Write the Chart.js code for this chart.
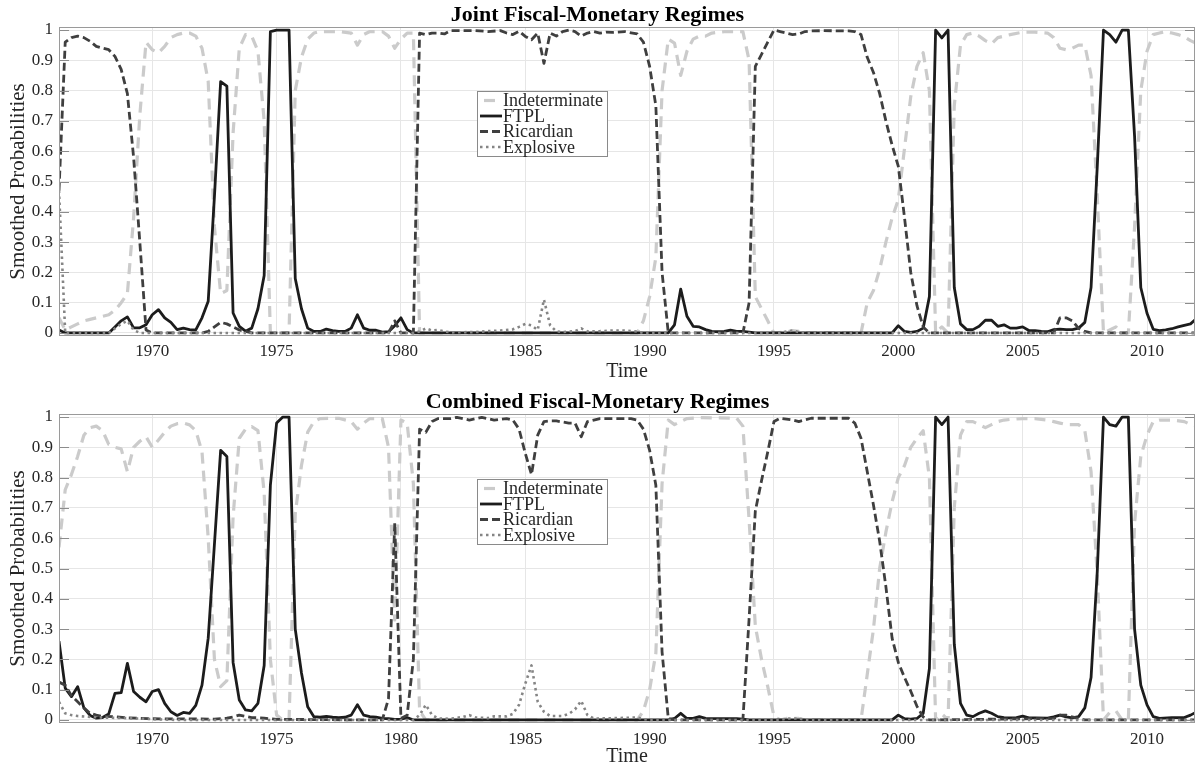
<!DOCTYPE html>
<html>
<head>
<meta charset="utf-8">
<script src="https://cdn.jsdelivr.net/npm/chart.js@4.4.1/dist/chart.umd.min.js"></script>
<style>
  html, body { margin: 0; padding: 0; background: #ffffff; }
  canvas { display: block; }
</style>
</head>
<body>
<canvas id="top" width="1195" height="382"></canvas>
<canvas id="bottom" width="1195" height="382"></canvas>
<script>
// ---------------- DATA ----------------
const seriesLabels = ['Indeterminate', 'FTPL', 'Ricardian', 'Explosive'];
const xTickValues = [1970, 1975, 1980, 1985, 1990, 1995, 2000, 2005, 2010];
const yTickValues = [0, 0.1, 0.2, 0.3, 0.4, 0.5, 0.6, 0.7, 0.8, 0.9, 1];
const yTickLabels = ['0', '0.1', '0.2', '0.3', '0.4', '0.5', '0.6', '0.7', '0.8', '0.9', '1'];
const chartTitles = ['Joint Fiscal-Monetary Regimes', 'Combined Fiscal-Monetary Regimes'];

// Joint regimes: [year, probability]
const jointIndet = [[1966.25,0.05],[1966.5,0.01],[1966.75,0.02],[1967.0,0.03],[1967.25,0.04],[1967.5,0.045],[1967.75,0.05],[1968.0,0.055],[1968.25,0.06],[1968.5,0.075],[1968.75,0.1],[1969.0,0.13],[1969.25,0.38],[1969.5,0.72],[1969.75,0.96],[1970.0,0.935],[1970.25,0.925],[1970.5,0.946],[1970.75,0.975],[1971.0,0.985],[1971.25,0.99],[1971.5,0.99],[1971.75,0.98],[1972.0,0.94],[1972.25,0.83],[1972.5,0.35],[1972.75,0.13],[1973.0,0.14],[1973.25,0.66],[1973.5,0.94],[1973.75,0.985],[1974.0,0.98],[1974.25,0.93],[1974.5,0.7],[1974.75,0.0],[1975.5,0.0],[1975.75,0.8],[1976.0,0.91],[1976.25,0.97],[1976.5,0.99],[1976.75,0.995],[1977.5,0.995],[1978.0,0.99],[1978.25,0.95],[1978.5,0.985],[1978.75,0.995],[1979.25,0.995],[1979.5,0.98],[1979.75,0.94],[1980.0,0.97],[1980.25,0.99],[1980.5,0.99],[1980.75,0.0],[1989.5,0.0],[1989.75,0.04],[1990.0,0.12],[1990.25,0.25],[1990.5,0.8],[1990.75,0.97],[1991.0,0.957],[1991.25,0.85],[1991.5,0.93],[1991.75,0.97],[1992.0,0.98],[1992.25,0.98],[1992.5,0.99],[1993.0,0.995],[1993.75,0.995],[1994.0,0.9],[1994.25,0.12],[1994.5,0.08],[1994.75,0.04],[1995.0,0.0],[1995.5,0.003],[1995.75,0.008],[1996.0,0.005],[1996.25,0.0],[1998.5,0.0],[1998.75,0.1],[1999.0,0.14],[1999.25,0.21],[1999.5,0.3],[1999.75,0.38],[2000.0,0.44],[2000.25,0.61],[2000.5,0.78],[2000.75,0.88],[2001.0,0.925],[2001.25,0.8],[2001.5,0.0],[2001.75,0.02],[2002.0,0.0],[2002.25,0.75],[2002.5,0.95],[2002.75,0.985],[2003.0,0.99],[2003.25,0.98],[2003.5,0.965],[2003.75,0.955],[2004.0,0.975],[2004.25,0.98],[2004.5,0.985],[2005.0,0.993],[2005.5,0.993],[2006.0,0.99],[2006.25,0.975],[2006.5,0.94],[2006.75,0.935],[2007.0,0.94],[2007.25,0.95],[2007.5,0.95],[2007.75,0.85],[2008.0,0.45],[2008.25,0.0],[2008.5,0.01],[2008.75,0.02],[2009.0,0.0],[2009.25,0.0],[2009.5,0.35],[2009.75,0.8],[2010.0,0.93],[2010.25,0.985],[2010.5,0.99],[2010.75,0.995],[2011.0,0.99],[2011.25,0.985],[2011.5,0.978],[2011.75,0.965],[2012.0,0.955]];
const jointFTPL = [[1966.25,0.01],[1966.5,0.0],[1968.25,0.0],[1968.5,0.02],[1968.75,0.04],[1969.0,0.053],[1969.25,0.017],[1969.5,0.017],[1969.75,0.027],[1970.0,0.06],[1970.25,0.077],[1970.5,0.05],[1970.75,0.035],[1971.0,0.011],[1971.25,0.016],[1971.5,0.011],[1971.75,0.01],[1972.0,0.05],[1972.25,0.105],[1972.5,0.45],[1972.75,0.83],[1973.0,0.815],[1973.25,0.066],[1973.5,0.022],[1973.75,0.006],[1974.0,0.016],[1974.25,0.08],[1974.5,0.19],[1974.75,0.995],[1975.0,1.0],[1975.25,1.0],[1975.5,1.0],[1975.75,0.18],[1976.0,0.08],[1976.25,0.016],[1976.5,0.005],[1976.75,0.005],[1977.0,0.013],[1977.25,0.008],[1977.5,0.005],[1977.75,0.005],[1978.0,0.016],[1978.25,0.06],[1978.5,0.016],[1978.75,0.009],[1979.0,0.009],[1979.25,0.003],[1979.5,0.004],[1979.75,0.024],[1980.0,0.05],[1980.25,0.011],[1980.5,0.0],[1990.75,0.0],[1991.0,0.027],[1991.25,0.145],[1991.5,0.055],[1991.75,0.022],[1992.0,0.02],[1992.25,0.011],[1992.5,0.005],[1992.75,0.004],[1993.0,0.005],[1993.25,0.009],[1993.5,0.005],[1993.75,0.005],[1994.0,0.003],[1994.25,0.0],[1999.75,0.0],[2000.0,0.024],[2000.25,0.005],[2000.5,0.002],[2000.75,0.005],[2001.0,0.016],[2001.25,0.12],[2001.5,1.0],[2001.75,0.974],[2002.0,1.0],[2002.25,0.15],[2002.5,0.03],[2002.75,0.011],[2003.0,0.011],[2003.25,0.022],[2003.5,0.042],[2003.75,0.042],[2004.0,0.022],[2004.25,0.027],[2004.5,0.016],[2004.75,0.016],[2005.0,0.02],[2005.25,0.008],[2005.5,0.008],[2005.75,0.005],[2006.0,0.004],[2006.25,0.011],[2006.5,0.013],[2006.75,0.011],[2007.0,0.011],[2007.25,0.016],[2007.5,0.035],[2007.75,0.15],[2008.0,0.55],[2008.25,1.0],[2008.5,0.985],[2008.75,0.96],[2009.0,1.0],[2009.25,1.0],[2009.5,0.65],[2009.75,0.15],[2010.0,0.065],[2010.25,0.012],[2010.5,0.008],[2010.75,0.01],[2011.0,0.014],[2011.25,0.02],[2011.5,0.025],[2011.75,0.03],[2012.0,0.048]];
const jointRicardian = [[1966.25,0.47],[1966.5,0.96],[1966.75,0.975],[1967.0,0.98],[1967.25,0.975],[1967.5,0.963],[1967.75,0.946],[1968.0,0.94],[1968.25,0.935],[1968.5,0.913],[1968.75,0.87],[1969.0,0.79],[1969.25,0.58],[1969.5,0.3],[1969.75,0.01],[1970.0,0.0],[1972.0,0.0],[1972.25,0.005],[1972.5,0.02],[1972.75,0.035],[1973.0,0.03],[1973.25,0.02],[1973.5,0.01],[1973.75,0.005],[1974.0,0.0],[1979.5,0.0],[1979.75,0.04],[1980.0,0.0],[1980.5,0.0],[1980.75,0.99],[1981.0,0.985],[1981.25,0.99],[1981.5,0.99],[1981.75,0.987],[1982.0,0.998],[1983.0,0.998],[1983.5,0.995],[1984.0,0.998],[1984.25,0.99],[1984.5,0.985],[1984.75,0.996],[1985.0,0.979],[1985.25,0.968],[1985.5,0.99],[1985.75,0.89],[1986.0,0.99],[1986.25,0.98],[1986.5,0.995],[1986.75,1.0],[1987.0,0.995],[1987.25,0.98],[1987.5,0.99],[1987.75,0.995],[1988.0,0.99],[1988.25,0.993],[1988.5,0.992],[1989.0,0.995],[1989.5,0.987],[1989.75,0.96],[1990.0,0.88],[1990.25,0.75],[1990.5,0.2],[1990.75,0.0],[1993.75,0.0],[1994.0,0.1],[1994.25,0.88],[1994.5,0.92],[1994.75,0.96],[1995.0,1.0],[1995.25,0.995],[1995.5,0.99],[1995.75,0.985],[1996.0,0.987],[1996.25,0.995],[1996.5,0.997],[1997.0,0.998],[1998.0,0.997],[1998.25,0.995],[1998.5,0.985],[1998.75,0.91],[1999.0,0.86],[1999.25,0.79],[1999.5,0.7],[1999.75,0.62],[2000.0,0.55],[2000.25,0.38],[2000.5,0.2],[2000.75,0.09],[2001.0,0.02],[2001.25,0.0],[2006.25,0.0],[2006.5,0.05],[2006.75,0.05],[2007.0,0.04],[2007.25,0.015],[2007.5,0.005],[2007.75,0.0],[2012.0,0.0]];
const jointExplosive = [[1966.25,0.47],[1966.5,0.0],[1968.25,0.0],[1968.5,0.015],[1968.75,0.03],[1969.0,0.04],[1969.25,0.01],[1969.5,0.0],[1980.5,0.0],[1980.75,0.005],[1981.0,0.015],[1981.25,0.008],[1981.5,0.01],[1981.75,0.005],[1982.0,0.002],[1983.0,0.003],[1983.5,0.006],[1984.0,0.008],[1984.5,0.012],[1984.75,0.02],[1985.0,0.03],[1985.25,0.025],[1985.5,0.01],[1985.75,0.11],[1986.0,0.025],[1986.25,0.005],[1986.5,0.003],[1987.0,0.006],[1987.25,0.015],[1987.5,0.005],[1988.0,0.006],[1988.5,0.008],[1989.0,0.008],[1989.5,0.005],[1989.75,0.0],[1995.25,0.0],[1995.5,0.005],[1995.75,0.008],[1996.0,0.003],[1996.25,0.0],[2012.0,0.0]];

// Combined regimes: [year, probability]
const combIndet = [[1966.25,0.57],[1966.5,0.76],[1966.75,0.81],[1967.0,0.87],[1967.25,0.94],[1967.5,0.965],[1967.75,0.97],[1968.0,0.955],[1968.25,0.91],[1968.5,0.9],[1968.75,0.895],[1969.0,0.82],[1969.25,0.9],[1969.5,0.92],[1969.75,0.935],[1970.0,0.9],[1970.25,0.924],[1970.5,0.95],[1970.75,0.97],[1971.0,0.978],[1971.25,0.98],[1971.5,0.974],[1971.75,0.955],[1972.0,0.886],[1972.25,0.6],[1972.5,0.2],[1972.75,0.11],[1973.0,0.13],[1973.25,0.67],[1973.5,0.93],[1973.75,0.96],[1974.0,0.968],[1974.25,0.955],[1974.5,0.75],[1974.75,0.2],[1975.0,0.016],[1975.25,0.0],[1975.5,0.0],[1975.75,0.68],[1976.0,0.84],[1976.25,0.95],[1976.5,0.985],[1976.75,0.995],[1977.5,0.996],[1978.0,0.985],[1978.25,0.96],[1978.5,0.98],[1978.75,0.995],[1979.25,0.995],[1979.5,0.9],[1979.75,0.33],[1980.0,0.99],[1980.25,0.98],[1980.5,0.78],[1980.75,0.03],[1981.0,0.0],[1989.5,0.0],[1989.75,0.03],[1990.0,0.1],[1990.25,0.22],[1990.5,0.78],[1990.75,0.99],[1991.0,0.975],[1991.25,0.985],[1991.5,0.995],[1992.0,0.998],[1993.5,0.996],[1993.75,0.97],[1994.0,0.66],[1994.25,0.31],[1994.5,0.2],[1994.75,0.11],[1995.0,0.012],[1995.25,0.0],[1995.5,0.005],[1996.0,0.005],[1996.25,0.0],[1998.5,0.0],[1998.75,0.15],[1999.0,0.3],[1999.25,0.5],[1999.5,0.62],[1999.75,0.72],[2000.0,0.8],[2000.25,0.84],[2000.5,0.9],[2000.75,0.93],[2001.0,0.955],[2001.25,0.8],[2001.5,0.0],[2001.75,0.02],[2002.0,0.0],[2002.25,0.7],[2002.5,0.94],[2002.75,0.985],[2003.0,0.985],[2003.25,0.975],[2003.5,0.965],[2003.75,0.975],[2004.0,0.985],[2004.25,0.99],[2004.5,0.992],[2005.0,0.995],[2005.5,0.995],[2006.0,0.99],[2006.25,0.985],[2006.5,0.98],[2006.75,0.975],[2007.0,0.975],[2007.25,0.975],[2007.5,0.955],[2007.75,0.82],[2008.0,0.48],[2008.25,0.0],[2008.5,0.025],[2008.75,0.03],[2009.0,0.0],[2009.25,0.0],[2009.5,0.65],[2009.75,0.87],[2010.0,0.94],[2010.25,0.985],[2010.5,0.99],[2011.0,0.99],[2011.5,0.985],[2011.75,0.975],[2012.0,0.97]];
const combFTPL = [[1966.25,0.26],[1966.5,0.105],[1966.75,0.077],[1967.0,0.11],[1967.25,0.04],[1967.5,0.015],[1967.75,0.006],[1968.0,0.008],[1968.25,0.02],[1968.5,0.088],[1968.75,0.09],[1969.0,0.187],[1969.25,0.094],[1969.5,0.075],[1969.75,0.06],[1970.0,0.094],[1970.25,0.1],[1970.5,0.055],[1970.75,0.027],[1971.0,0.015],[1971.25,0.025],[1971.5,0.022],[1971.75,0.048],[1972.0,0.115],[1972.25,0.27],[1972.5,0.58],[1972.75,0.89],[1973.0,0.87],[1973.25,0.19],[1973.5,0.066],[1973.75,0.033],[1974.0,0.03],[1974.25,0.055],[1974.5,0.18],[1974.75,0.775],[1975.0,0.98],[1975.25,1.0],[1975.5,1.0],[1975.75,0.3],[1976.0,0.155],[1976.25,0.044],[1976.5,0.011],[1976.75,0.009],[1977.0,0.012],[1977.25,0.009],[1977.5,0.008],[1977.75,0.009],[1978.0,0.016],[1978.25,0.05],[1978.5,0.016],[1978.75,0.011],[1979.0,0.009],[1979.25,0.005],[1979.5,0.004],[1979.75,0.002],[1980.0,0.003],[1980.25,0.008],[1980.5,0.0],[1990.75,0.0],[1991.0,0.005],[1991.25,0.022],[1991.5,0.005],[1991.75,0.005],[1992.0,0.011],[1992.25,0.005],[1993.5,0.004],[1993.75,0.003],[1994.0,0.0],[1999.75,0.0],[2000.0,0.016],[2000.25,0.004],[2000.5,0.003],[2000.75,0.005],[2001.0,0.022],[2001.25,0.17],[2001.5,1.0],[2001.75,0.975],[2002.0,1.0],[2002.25,0.25],[2002.5,0.055],[2002.75,0.016],[2003.0,0.011],[2003.25,0.022],[2003.5,0.03],[2003.75,0.022],[2004.0,0.011],[2004.25,0.008],[2004.5,0.007],[2004.75,0.008],[2005.0,0.013],[2005.25,0.007],[2005.5,0.007],[2006.0,0.006],[2006.25,0.01],[2006.5,0.016],[2006.75,0.01],[2007.0,0.007],[2007.25,0.011],[2007.5,0.04],[2007.75,0.14],[2008.0,0.49],[2008.25,1.0],[2008.5,0.975],[2008.75,0.97],[2009.0,1.0],[2009.25,1.0],[2009.5,0.3],[2009.75,0.115],[2010.0,0.05],[2010.25,0.011],[2010.5,0.005],[2011.0,0.008],[2011.5,0.008],[2011.75,0.016],[2012.0,0.027]];
const combRicardian = [[1966.25,0.125],[1966.5,0.115],[1966.75,0.08],[1967.0,0.06],[1967.25,0.04],[1967.5,0.022],[1967.75,0.016],[1968.0,0.012],[1968.5,0.011],[1969.0,0.007],[1970.0,0.004],[1972.5,0.003],[1973.0,0.006],[1973.25,0.01],[1973.5,0.016],[1973.75,0.012],[1974.0,0.008],[1974.5,0.006],[1975.0,0.002],[1979.25,0.0],[1979.5,0.07],[1979.75,0.65],[1980.0,0.005],[1980.25,0.016],[1980.5,0.2],[1980.75,0.96],[1981.0,0.95],[1981.25,0.985],[1981.5,0.995],[1982.0,0.995],[1982.25,0.999],[1982.75,0.99],[1983.25,0.999],[1983.75,0.99],[1984.25,0.995],[1984.5,0.99],[1984.75,0.96],[1985.0,0.88],[1985.25,0.81],[1985.5,0.94],[1985.75,0.985],[1986.0,0.987],[1986.25,0.987],[1986.75,0.98],[1987.0,0.98],[1987.25,0.935],[1987.5,0.985],[1987.75,0.99],[1988.0,0.995],[1989.25,0.995],[1989.5,0.99],[1989.75,0.96],[1990.0,0.89],[1990.25,0.775],[1990.5,0.225],[1990.75,0.005],[1991.0,0.0],[1993.75,0.0],[1994.0,0.335],[1994.25,0.69],[1994.5,0.79],[1994.75,0.885],[1995.0,0.985],[1995.25,0.996],[1995.75,0.99],[1996.0,0.985],[1996.5,0.996],[1998.0,0.996],[1998.25,0.98],[1998.5,0.93],[1998.75,0.82],[1999.0,0.71],[1999.25,0.59],[1999.5,0.44],[1999.75,0.27],[2000.0,0.19],[2000.25,0.14],[2000.5,0.095],[2000.75,0.045],[2001.0,0.01],[2001.25,0.0],[2006.25,0.005],[2006.5,0.016],[2006.75,0.016],[2007.0,0.01],[2007.25,0.005],[2007.5,0.0],[2012.0,0.0]];
const combExplosive = [[1966.25,0.06],[1966.5,0.022],[1966.75,0.016],[1967.0,0.013],[1967.5,0.01],[1968.0,0.008],[1969.0,0.006],[1970.0,0.003],[1971.0,0.0],[1980.5,0.0],[1980.75,0.016],[1981.0,0.05],[1981.25,0.016],[1981.5,0.005],[1982.0,0.004],[1982.5,0.01],[1982.75,0.016],[1983.0,0.008],[1983.5,0.006],[1983.75,0.012],[1984.25,0.012],[1984.5,0.02],[1984.75,0.05],[1985.0,0.12],[1985.25,0.18],[1985.5,0.06],[1985.75,0.027],[1986.0,0.013],[1986.5,0.013],[1986.75,0.02],[1987.0,0.035],[1987.25,0.063],[1987.5,0.016],[1987.75,0.005],[1988.0,0.005],[1989.5,0.008],[1989.75,0.003],[1990.0,0.0],[1995.25,0.0],[1995.5,0.005],[1996.0,0.005],[1996.25,0.0],[2012.0,0.0]];

// ---------------- STYLE / BUILD ----------------
const FONT = "'Liberation Serif', 'Times New Roman', serif";
const TEXT = '#262626';
const styles = [
  { color: '#cbcbcb', width: 3.2, dash: [11, 7], order: 3 },
  { color: '#1c1c1c', width: 2.8, dash: [], order: 2 },
  { color: '#3f3f3f', width: 2.8, dash: [8, 4], order: 1 },
  { color: '#858585', width: 2.6, dash: [2.5, 3.5], order: 0 }
];

const frameAndLegend = {
  id: 'frameAndLegend',
  afterDatasetsDraw(chart, args, opts) {
    const ctx = chart.ctx, a = chart.chartArea, ys = chart.scales.y;
    ctx.save();
    // inward y ticks on both sides
    ctx.strokeStyle = '#8c8c8c'; ctx.lineWidth = 1; ctx.setLineDash([]);
    yTickValues.forEach(v => {
      const py = Math.round(ys.getPixelForValue(v)) + 0.5;
      ctx.beginPath(); ctx.moveTo(a.left, py); ctx.lineTo(a.left + 10, py); ctx.stroke();
      ctx.beginPath(); ctx.moveTo(a.right - 10, py); ctx.lineTo(a.right, py); ctx.stroke();
    });
    // box
    ctx.strokeStyle = '#9a9a9a';
    ctx.strokeRect(a.left + 0.5, a.top + 0.5, a.right - a.left - 1, a.bottom - a.top - 1);
    // legend
    const lx = a.left + opts.dx, ly = a.top + opts.dy, lw = opts.w, lh = opts.h;
    ctx.fillStyle = '#ffffff';
    ctx.fillRect(lx, ly, lw, lh);
    ctx.strokeStyle = '#8a8a8a';
    ctx.strokeRect(lx + 0.5, ly + 0.5, lw, lh);
    ctx.font = '18px ' + FONT;
    ctx.textBaseline = 'middle';
    ctx.textAlign = 'left';
    chart.data.datasets.forEach((ds, i) => {
      const cy = ly + 9.5 + i * 15.5;
      ctx.strokeStyle = ds.borderColor;
      ctx.lineWidth = ds.borderWidth;
      ctx.setLineDash(ds.borderDash || []);
      ctx.lineDashOffset = i === 0 ? -4 : 0;
      ctx.beginPath(); ctx.moveTo(lx + 3, cy); ctx.lineTo(lx + 25, cy); ctx.stroke();
      ctx.setLineDash([]);
      ctx.fillStyle = TEXT;
      ctx.fillText(ds.label, lx + 26, cy + 1);
    });
    ctx.restore();
  }
};

function makeChart(id, title, series, cfg) {
  const datasets = series.map((s, i) => ({
    label: seriesLabels[i],
    data: s.map(p => ({ x: p[0], y: p[1] })),
    borderColor: styles[i].color,
    borderWidth: styles[i].width,
    borderDash: styles[i].dash,
    order: styles[i].order,
    pointRadius: 0,
    tension: 0,
    fill: false,
    borderJoinStyle: 'round',
    borderCapStyle: 'butt'
  }));
  return new Chart(document.getElementById(id), {
    type: 'line',
    data: { datasets },
    plugins: [frameAndLegend],
    options: {
      responsive: false,
      animation: false,
      devicePixelRatio: 1,
      layout: { padding: 0 },
      plugins: {
        legend: { display: false },
        tooltip: { enabled: false },
        title: {
          display: true, text: title, color: '#000000',
          font: { family: FONT, size: 22, weight: 'bold', lineHeight: 1 },
          padding: { top: cfg.titleTop, bottom: cfg.titleBottom }
        },
        frameAndLegend: { dx: 418, dy: cfg.legendDy, w: 130, h: 65 }
      },
      scales: {
        x: {
          type: 'linear', min: 1966.25, max: 2011.93,
          afterBuildTicks: s => { s.ticks = xTickValues.map(v => ({ value: v })); },
          afterFit: s => { s.height = cfg.xHeight; },
          ticks: { color: TEXT, font: { family: FONT, size: 17 }, padding: cfg.tickPad, maxRotation: 0, autoSkip: false, callback: v => String(v) },
          grid: { color: '#e6e6e6', lineWidth: 1, drawTicks: false },
          border: { display: false },
          title: { display: true, text: 'Time', color: TEXT, font: { family: FONT, size: 20, lineHeight: 1 }, padding: { top: 0, bottom: cfg.timeBottom } }
        },
        y: {
          min: -0.01, max: 1.01,
          afterBuildTicks: s => { s.ticks = yTickValues.map(v => ({ value: v })); },
          afterFit: s => { s.width = 59; },
          ticks: { color: TEXT, font: { family: FONT, size: 17 }, padding: 6, callback: (v, i) => yTickLabels[i] },
          grid: { color: '#e6e6e6', lineWidth: 1, drawTicks: false },
          border: { display: false },
          title: { display: true, text: 'Smoothed Probabilities', color: TEXT, font: { family: FONT, size: 21, lineHeight: 1 }, padding: { top: 8, bottom: 0 } }
        }
      }
    }
  });
}

makeChart('top', chartTitles[0], [jointIndet, jointFTPL, jointRicardian, jointExplosive],
  { titleTop: 4, titleBottom: 1, xHeight: 46, tickPad: 5, timeBottom: 0, legendDy: 64 });
makeChart('bottom', chartTitles[1], [combIndet, combFTPL, combRicardian, combExplosive],
  { titleTop: 9, titleBottom: 1, xHeight: 41, tickPad: 6, timeBottom: -3, legendDy: 65 });
</script>
</body>
</html>
